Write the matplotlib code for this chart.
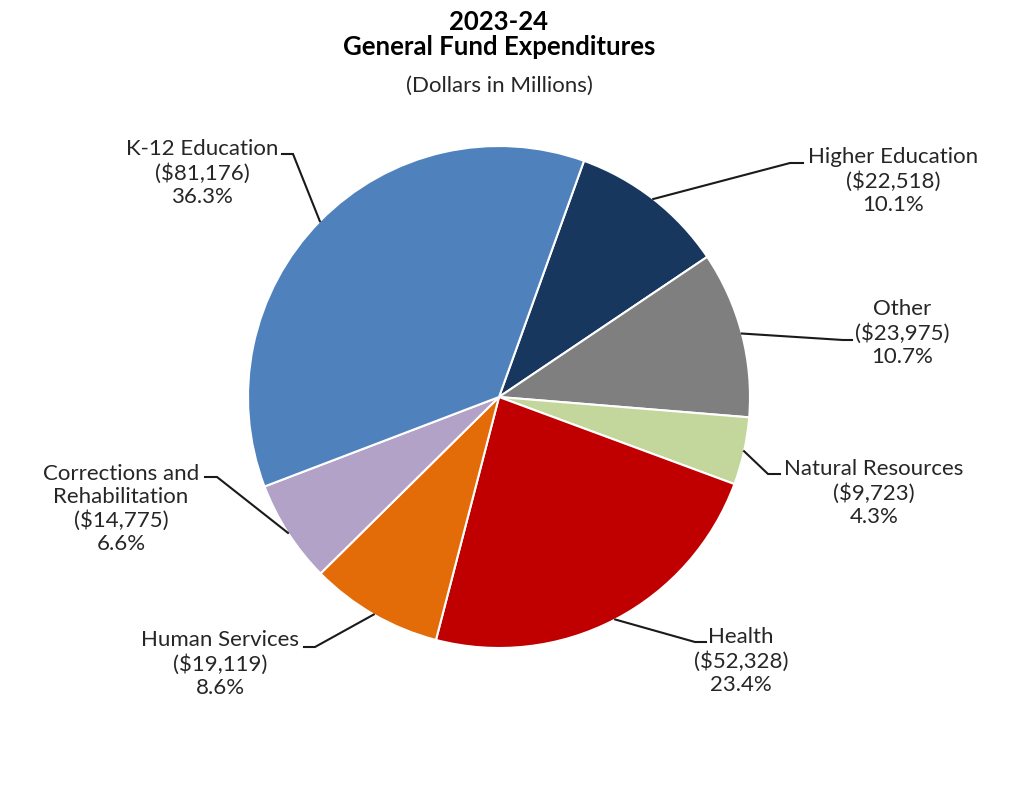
import matplotlib.pyplot as plt
import numpy as np

plt.rcParams['font.family'] = ['Lato', 'DejaVu Sans']

# data, clockwise from the top
categories = ["Higher Education", "Other", "Natural Resources", "Health",
              "Human Services", "Corrections and\nRehabilitation", "K-12 Education"]
amounts = [22518, 23975, 9723, 52328, 19119, 14775, 81176]
percents = [10.1, 10.7, 4.3, 23.4, 8.6, 6.6, 36.3]
colors = ["#17375E", "#7F7F7F", "#C3D69B", "#C00000", "#E36C09", "#B3A2C7", "#4F81BD"]

W, H = 1033, 787
CX, CY, R = 499, H - 397, 251
START = 70.2

# label layout in image pixels: text centre, elbow, end of horizontal stub
label_pos = [(893, 181), (902, 333), (874, 493), (741, 661),
             (220, 664), (121, 509), (202, 173)]
elbow = [(790, 163), (843, 340), (768, 474), (695, 642),
         (315, 647), (217, 477), (293, 154)]
stub = [(803, 163), (852, 340), (780, 474), (706, 642),
        (304, 647), (205, 477), (282, 154)]

fig = plt.figure(figsize=(W / 100, H / 100), dpi=100)
ax = fig.add_axes([0, 0, 1, 1])

wedges, _ = ax.pie(amounts, colors=colors, startangle=START, counterclock=False,
                   radius=R, center=(CX, CY), frame=True,
                   wedgeprops=dict(edgecolor='white', linewidth=1.5))
ax.set_xlim(0, W)
ax.set_ylim(0, H)
ax.axis('off')

for i, w in enumerate(wedges):
    mid = np.deg2rad((w.theta1 + w.theta2) / 2)
    ex, ey = CX + R * np.cos(mid), CY + R * np.sin(mid)
    bx, by = elbow[i]
    sx, sy = stub[i]
    ax.plot([ex, bx, sx], [ey, H - by, H - sy], color='#1a1a1a', lw=1.5,
            solid_joinstyle='miter')
    txt = f"{categories[i]}\n(${amounts[i]:,})\n{percents[i]:.1f}%"
    tx, ty = label_pos[i]
    ax.text(tx, H - ty, txt, ha='center', va='center', fontsize=16,
            color='#262626', linespacing=1.2)

fig.text(0.483, 1 - 30 / H, "2023-24", ha='center', va='baseline',
         fontsize=18.5, fontweight='bold', color='black')
fig.text(0.483, 1 - 55 / H, "General Fund Expenditures", ha='center', va='baseline',
         fontsize=18.5, fontweight='bold', color='black')
fig.text(0.483, 1 - 92 / H, "(Dollars in Millions)", ha='center', va='baseline',
         fontsize=16, color='#262626')

plt.savefig("out.png", dpi=100)
plt.close(fig)
